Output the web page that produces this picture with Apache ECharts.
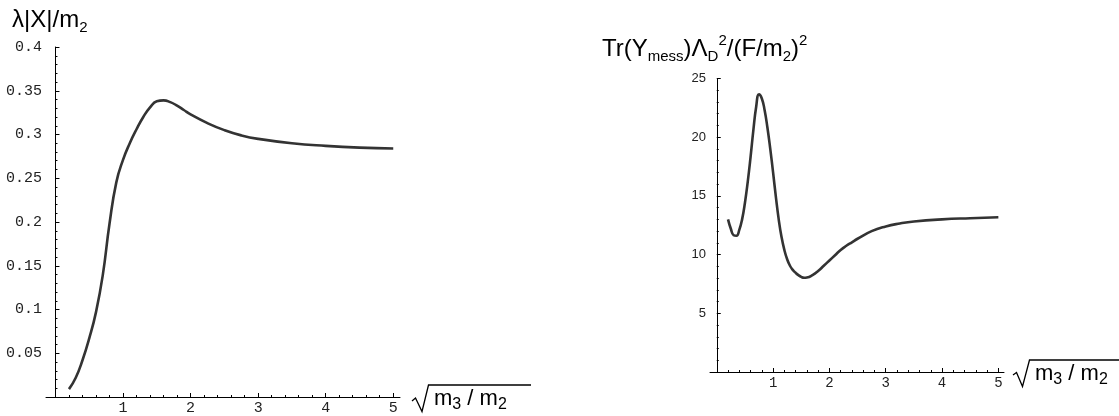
<!DOCTYPE html>
<html>
<head>
<meta charset="utf-8">
<script src="https://cdn.jsdelivr.net/npm/echarts@6/dist/echarts.min.js"></script>
<style>
  html, body { margin: 0; background: #fff; }
  #chart { width: 1119px; height: 416px; }
</style>
</head>
<body>
<div id="chart"></div>
<script>
// left panel: lambda|X|/m2 against sqrt(m3/m2)
const leftX = [0.2, 0.3, 0.4, 0.5, 0.6, 0.7, 0.8, 0.9, 1.0, 1.1, 1.2, 1.3, 1.4, 1.5, 1.6, 1.7, 1.8, 1.9, 2.0, 2.25, 2.5, 2.75, 3.0, 3.5, 4.0, 4.5, 5.0];
const leftY = [0.009, 0.022, 0.042, 0.067, 0.097, 0.139, 0.198, 0.245, 0.271, 0.290, 0.306, 0.320, 0.331, 0.338, 0.339, 0.337, 0.333, 0.328, 0.323, 0.313, 0.305, 0.299, 0.295, 0.290, 0.287, 0.285, 0.284];

// right panel: Tr(Y_mess) Lambda_D^2 / (F/m2)^2 against sqrt(m3/m2)
const rightX = [0.2, 0.25, 0.3, 0.35, 0.4, 0.45, 0.5, 0.55, 0.6, 0.65, 0.7, 0.75, 0.8, 0.85, 0.9, 0.95, 1.0, 1.05, 1.1, 1.15, 1.2, 1.25, 1.3, 1.35, 1.4, 1.45, 1.5, 1.55, 1.6, 1.7, 1.8, 1.9, 2.0, 2.1, 2.2, 2.3, 2.4, 2.5, 2.75, 3.0, 3.25, 3.5, 4.0, 4.5, 5.0];
const rightY = [13.0, 12.2, 11.65, 11.6, 12.1, 13.0, 14.4, 16.2, 18.3, 20.6, 22.6, 23.65, 23.3, 22.3, 20.8, 19.0, 17.0, 14.9, 13.0, 11.5, 10.4, 9.6, 9.05, 8.7, 8.45, 8.25, 8.1, 8.03, 8.05, 8.25, 8.6, 9.05, 9.5, 9.95, 10.4, 10.75, 11.05, 11.35, 12.0, 12.4, 12.65, 12.82, 13.0, 13.1, 13.18];

// tick positions on the x axes
const xMajor = [1, 2, 3, 4, 5];
const xMinor = [0.2, 0.4, 0.6, 0.8, 1.2, 1.4, 1.6, 1.8, 2.2, 2.4, 2.6, 2.8, 3.2, 3.4, 3.6, 3.8, 4.2, 4.4, 4.6, 4.8];

const mono = '"Liberation Mono", "DejaVu Sans Mono", monospace';
const sans = '"Liberation Sans", Arial, sans-serif';
const black = '#000';

function zip(xs, ys) {
    return xs.map((x, i) => [x, ys[i]]);
}

function xAxes(grid, min, fontSize) {
    return [{
        gridIndex: grid, type: 'value', min: min, max: 5.1,
        axisLine: { onZero: true, lineStyle: { color: black, width: 1 } },
        axisTick: { show: true, inside: true, length: 4, customValues: xMajor, lineStyle: { color: black } },
        axisLabel: { customValues: xMajor, fontFamily: mono, fontSize: fontSize, color: '#222', margin: 4 },
        splitLine: { show: false }
    }, {
        gridIndex: grid, type: 'value', min: min, max: 5.1, position: 'bottom',
        axisLine: { show: false },
        axisTick: { show: true, inside: true, length: 2, customValues: xMinor, lineStyle: { color: black } },
        axisLabel: { show: false },
        splitLine: { show: false }
    }];
}

function yAxis(grid, max, step, font, fontSize) {
    return {
        gridIndex: grid, type: 'value', min: 0, max: max, interval: step,
        axisLine: { show: true, onZero: true, lineStyle: { color: black, width: 1 } },
        axisTick: { show: true, inside: true, length: 4, lineStyle: { color: black } },
        minorTick: { show: true, splitNumber: 5, length: 2, lineStyle: { color: black } },
        axisLabel: { showMinLabel: false, fontFamily: font, fontSize: fontSize, color: '#222', margin: 4 },
        splitLine: { show: false },
        minorSplitLine: { show: false }
    };
}

const subStyle = { fontFamily: sans, fontSize: 15, color: black, padding: [14, 0, 0, 0] };
const supStyle = { fontFamily: sans, fontSize: 15, color: black, padding: [0, 0, 18, 0] };
const titleStyle = { fontFamily: sans, fontSize: 24, fontWeight: 'normal', color: black, rich: { s: subStyle, p: supStyle } };

const chart = echarts.init(document.getElementById('chart'));
chart.setOption({
    animation: false,
    backgroundColor: '#fff',
    title: [
        { text: 'λ|X|/m{s|2}', left: 12, top: 6, padding: 0, textStyle: titleStyle },
        { text: 'Tr(Y{s|mess})Λ{s|D}{p|2}/(F/m{s|2}){p|2}', left: 602, top: 33, padding: 0, textStyle: titleStyle }
    ],
    grid: [
        { left: 46, top: 47, width: 354, height: 352 },
        { left: 710, top: 78.5, width: 294, height: 293.5 }
    ],
    xAxis: xAxes(0, -0.14, 15).concat(xAxes(1, -0.12, 14)),
    yAxis: [
        yAxis(0, 0.4, 0.05, mono, 15),
        yAxis(1, 25, 5, sans, 13)
    ],
    series: [{
        type: 'line', xAxisIndex: 0, yAxisIndex: 0,
        data: zip(leftX, leftY),
        showSymbol: false, smooth: 0.5, smoothMonotone: 'none',
        lineStyle: { color: '#333', width: 2.6 }
    }, {
        type: 'line', xAxisIndex: 2, yAxisIndex: 1,
        data: zip(rightX, rightY),
        showSymbol: false, smooth: 0.5, smoothMonotone: 'none',
        lineStyle: { color: '#333', width: 2.6 }
    }],
    // sqrt(m3/m2) axis names, drawn with a radical sign
    graphic: [
        { type: 'polyline', shape: { points: [[412, 401], [415.5, 398], [422, 411.5], [428.5, 385], [531, 385]] },
          style: { stroke: black, lineWidth: 1.3, fill: null } },
        { type: 'text', x: 434, y: 398.5,
          style: { text: 'm{s|3} / m{s|2}', fontFamily: sans, fontSize: 22, fill: black, verticalAlign: 'middle',
                   rich: { s: { fontFamily: sans, fontSize: 16, fill: black, padding: [12, 0, 0, 0] } } } },
        { type: 'polyline', shape: { points: [[1013, 375], [1016.5, 372.5], [1022.5, 386.5], [1029.5, 360], [1119, 360]] },
          style: { stroke: black, lineWidth: 1.3, fill: null } },
        { type: 'text', x: 1035, y: 373.5,
          style: { text: 'm{s|3} / m{s|2}', fontFamily: sans, fontSize: 22, fill: black, verticalAlign: 'middle',
                   rich: { s: { fontFamily: sans, fontSize: 16, fill: black, padding: [12, 0, 0, 0] } } } }
    ]
});
</script>
</body>
</html>
